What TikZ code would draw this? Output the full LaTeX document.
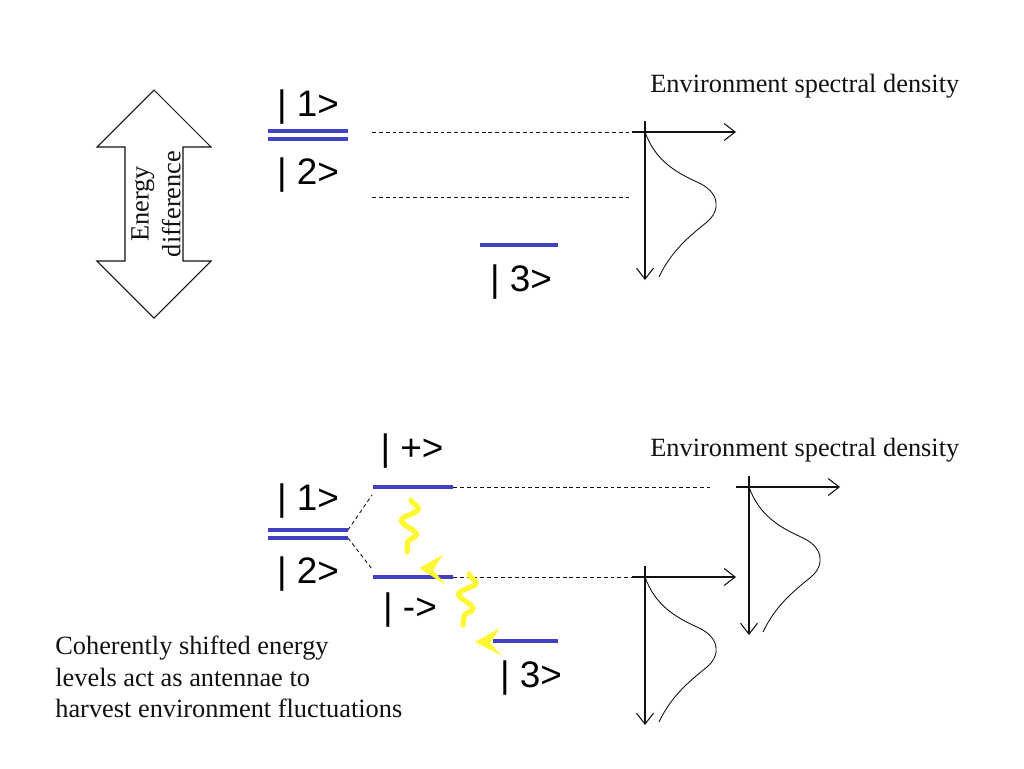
\documentclass[tikz,border=0pt]{standalone}
\usepackage{fontspec}
\setmainfont{Liberation Serif}
\setsansfont{Liberation Sans}
\usetikzlibrary{arrows.meta,decorations.pathmorphing}
\definecolor{levelblue}{HTML}{4040C2}
\definecolor{photon}{HTML}{FFF733}
\definecolor{ink}{HTML}{111111}
\tikzset{
  level/.style={draw=levelblue,line width=2.1pt},
  ket/.style={font=\fontsize{21}{25}\selectfont\sffamily,anchor=base,inner sep=0pt},
  caption/.style={font=\fontsize{15}{18}\selectfont,inner sep=0pt,text=ink},
  guide/.style={draw=ink,dash pattern=on 2.2pt off 1.7pt,line width=.5pt},
  axis/.style={draw=ink,line width=.6pt,-{Straight Barb[length=2.2mm,width=3.4mm]}},
  bump/.style={draw=ink,line width=.5pt},
  bigarrow/.style={draw=ink,line width=.6pt,fill=white},
  wave/.style={draw=photon,line width=3pt,line cap=round,decorate,
    decoration={snake,segment length=0.52cm,amplitude=0.16cm}},
  photonhead/.style={fill=photon},
  spectrum/.pic={
    \coordinate (-o) at (0,0);
    \coordinate (-w) at (-13,0);
    \draw[axis] (-w) -- (91,0);
    \draw[axis] (0,-11) -- (0,148);
    \draw[bump] (0,0) .. controls (10,28) and (30,40) .. (52,50)
      .. controls (75,60) and (76,78) .. (62,90)
      .. controls (42,106) and (26,120) .. (14,145);
  },
}
\begin{document}
\begin{tikzpicture}[x=0.02cm,y=-0.02cm]
\useasboundingbox (0,0) rectangle (1024,768);
% upper panel
\draw[bigarrow] (154,90) -- (211,147) -- (183,147) -- (183,261) -- (211,261)
  -- (154,318) -- (97,261) -- (125,261) -- (125,147) -- (97,147) -- cycle;
\node[caption,rotate=90,align=center] (gap) at (156,204) {Energy\\difference};
\draw[level] (268,131) -- (348,131);
\draw[level] (268,139) -- (348,139);
\node[ket] (ua) at (308,116) {| 1>};
\node[ket] (ub) at (308,184) {| 2>};
\draw[level] (480,245) -- (558,245);
\node[ket] (uc) at (521,291) {| 3>};
\pic (specA) at (645,132) {spectrum};
\coordinate (u1g) at (372,132);
\coordinate (u2g) at (372,197);
\coordinate (u2h) at (632,197);
\draw[guide] (u1g) -- (specA-w);
\draw[guide] (u2g) -- (u2h);
\node[caption,anchor=base west] (densA) at (650,92) {Environment spectral density};
% lower panel
\draw[level] (268,530) -- (348,530) coordinate (l1e);
\draw[level] (268,538) -- (348,538) coordinate (l2e);
\node[ket] (la) at (308,510) {| 1>};
\node[ket] (lb) at (308,583) {| 2>};
\draw[level] (373,487) -- (453,487) coordinate (pe);
\draw[level] (373,577) -- (453,577) coordinate (me);
\draw[level] (493,641) -- (558,641);
\node[ket] (lp) at (412,460) {| +>};
\node[ket] (lm) at (410,619) {| ->};
\node[ket] (lc) at (531,687) {| 3>};
\coordinate (pd) at (372,495);
\coordinate (md) at (372,569);
\draw[guide] (l1e) -- (pd);
\draw[guide] (l2e) -- (md);
\pic (specB) at (749,487) {spectrum};
\pic (specC) at (645,577) {spectrum};
\coordinate (pend) at (712,487);
\draw[guide] (pe) -- (pend);
\draw[guide] (me) -- (specC-w);
\node[caption,anchor=base west] (densB) at (650,456) {Environment spectral density};
% photons
\coordinate (w1a) at (411,500);
\coordinate (w1b) at (407,552);
\coordinate (w2a) at (469,574);
\coordinate (w2b) at (463,625);
\draw[wave] (w1a) -- (w1b);
\draw[wave] (w2a) -- (w2b);
\fill[photonhead] (419,568) -- (443,555) -- (433,570) -- (446,585) -- cycle;
\fill[photonhead] (475,642) -- (500,628) -- (490,643) -- (502,656) -- cycle;
\node[caption,anchor=west,align=left] (note) at (55,677)
  {Coherently shifted energy\\levels act as antennae to\\harvest environment fluctuations};
\end{tikzpicture}
\end{document}
